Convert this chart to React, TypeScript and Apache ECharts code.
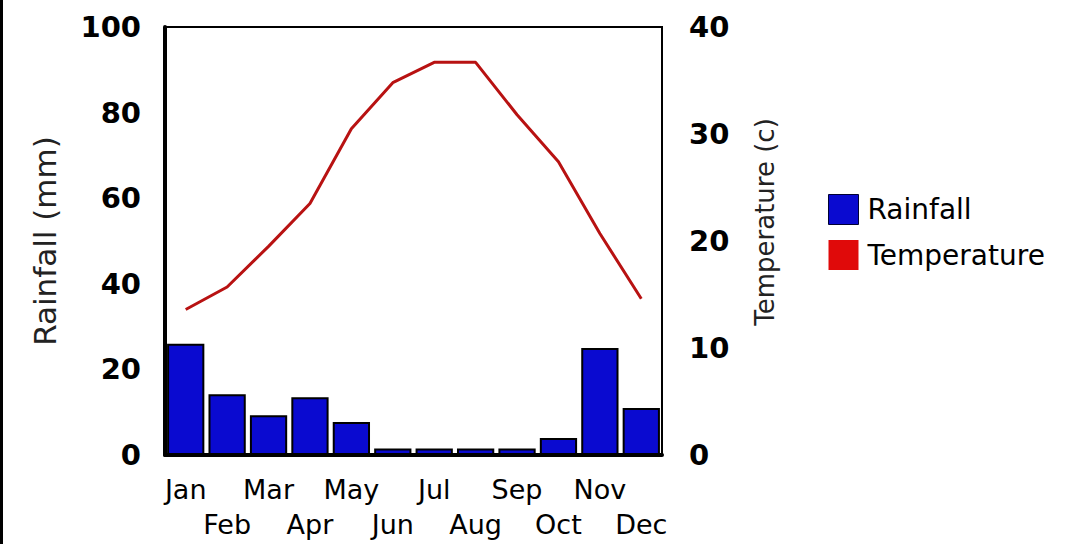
import React, { useEffect, useRef } from "react";
import * as echarts from "echarts";

const months = ["Jan", "Feb", "Mar", "Apr", "May", "Jun", "Jul", "Aug", "Sep", "Oct", "Nov", "Dec"];
const rainfall = [26, 14.2, 9.3, 13.5, 7.7, 1.5, 1.5, 1.5, 1.5, 4, 25, 11];
const temperature = [13.6, 15.7, 19.5, 23.5, 30.5, 34.8, 36.7, 36.7, 31.8, 27.4, 20.7, 14.6];
const rainTicks = { min: 0, max: 100, interval: 20 };
const tempTicks = { min: 0, max: 40, interval: 10 };

const FONT = "DejaVu Sans";

export default function App() {
  const ref = useRef<HTMLDivElement>(null);
  useEffect(() => {
    if (!ref.current) return;
    const chart = echarts.init(ref.current, undefined, { renderer: "svg" });
    chart.setOption({
      animation: false,
      backgroundColor: "#ffffff",
      grid: {
        left: 165,
        right: 410,
        top: 27,
        bottom: 89,
        show: true,
        borderColor: "#000",
        borderWidth: 2,
        backgroundColor: "#fff",
      },
      legend: {
        orient: "vertical",
        left: 823,
        top: 189,
        itemWidth: 30,
        itemHeight: 30,
        itemGap: 15,
        icon: "rect",
        textStyle: { fontFamily: FONT, fontSize: 28, color: "#000", padding: [0, 0, 0, 4] },
        data: [
          { name: "Rainfall", itemStyle: { color: "#0a0ad0", borderColor: "#000033", borderWidth: 1 } },
          { name: "Temperature", itemStyle: { color: "#e00a0a", borderWidth: 0 } },
        ],
      },
      xAxis: {
        type: "category",
        data: months,
        axisLine: { show: true, lineStyle: { color: "#000", width: 4 } },
        axisTick: { show: false },
        axisLabel: {
          interval: 0,
          margin: 17,
          fontFamily: FONT,
          fontSize: 27,
          color: "#000",
          lineHeight: 35,
          formatter: (v: string, i: number) => (i % 2 === 0 ? v : "\n" + v),
        },
      },
      yAxis: [
        {
          type: "value",
          min: rainTicks.min,
          max: rainTicks.max,
          interval: rainTicks.interval,
          position: "left",
          axisLine: { show: true, lineStyle: { color: "#000", width: 4 } },
          axisTick: { show: false },
          splitLine: { show: false },
          axisLabel: { margin: 24, fontFamily: FONT, fontWeight: "bold", fontSize: 29, color: "#000" },
        },
        {
          type: "value",
          min: tempTicks.min,
          max: tempTicks.max,
          interval: tempTicks.interval,
          position: "right",
          axisLine: { show: true, lineStyle: { color: "#000", width: 2 } },
          axisTick: { show: false },
          splitLine: { show: false },
          axisLabel: { margin: 27, fontFamily: FONT, fontWeight: "bold", fontSize: 29, color: "#000" },
        },
      ],
      series: [
        {
          name: "Rainfall",
          type: "bar",
          yAxisIndex: 0,
          data: rainfall,
          barCategoryGap: "10%",
          itemStyle: { color: "#0a0ad0", borderColor: "#000", borderWidth: 2 },
        },
        {
          name: "Temperature",
          type: "line",
          yAxisIndex: 1,
          data: temperature,
          showSymbol: false,
          symbol: "none",
          itemStyle: { color: "#e00a0a" },
          lineStyle: { color: "#b81212", width: 3 },
          z: 5,
        },
      ],
      graphic: [
        { type: "rect", left: 0, top: 0, shape: { width: 3, height: 544 }, style: { fill: "#000" } },
        {
          type: "text",
          x: 45,
          y: 241,
          rotation: Math.PI / 2,
          style: {
            text: "Rainfall (mm)",
            fontFamily: FONT,
            fontSize: 31,
            fill: "#222",
            align: "center",
            verticalAlign: "middle",
          },
        },
        {
          type: "text",
          x: 765,
          y: 222,
          rotation: Math.PI / 2,
          style: {
            text: "Temperature (c)",
            fontFamily: FONT,
            fontSize: 26,
            fill: "#222",
            align: "center",
            verticalAlign: "middle",
          },
        },
      ],
    });
    return () => chart.dispose();
  }, []);
  return (
    <div
      ref={ref}
      style={{ position: "fixed", left: 0, top: 0, width: 1072, height: 544, background: "#fff" }}
    />
  );
}
